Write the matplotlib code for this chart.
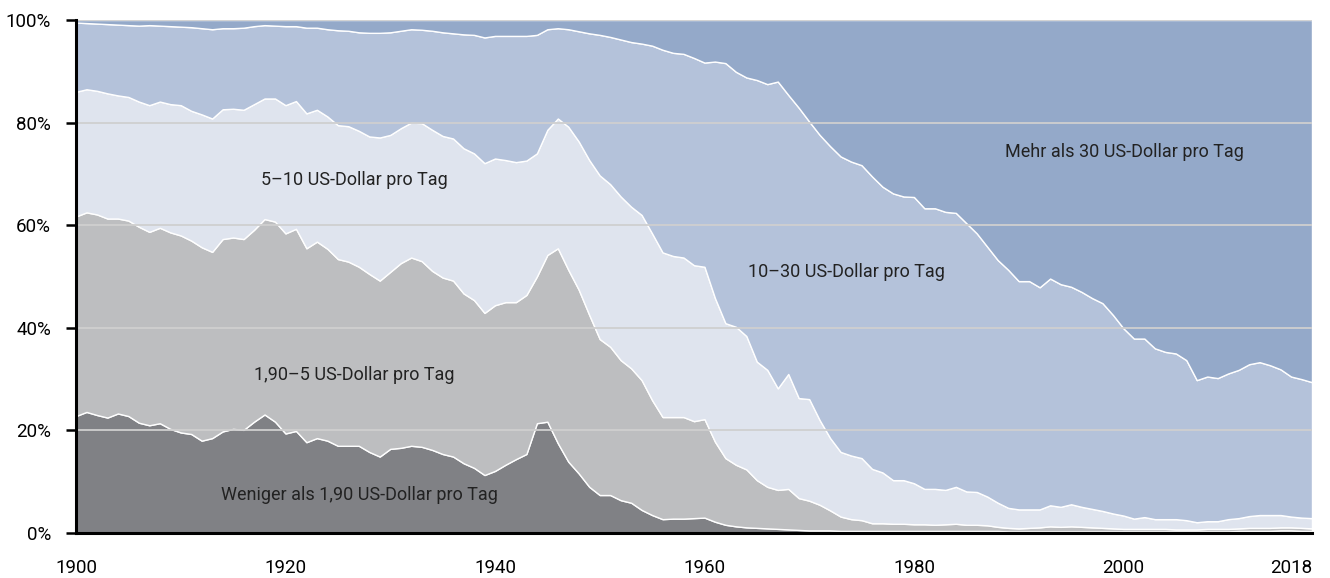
import matplotlib
matplotlib.use("Agg")
import matplotlib.pyplot as plt

years = list(range(1900, 2019))

# cumulative shares (%) – upper edge of each income band
unter_190 = [
    22.8, 23.6, 23.0, 22.5, 23.3, 22.8, 21.5, 21.0, 21.4, 20.3,
    19.6, 19.3, 18.0, 18.5, 19.8, 20.3, 20.1, 21.7, 23.1, 21.7,
    19.4, 19.9, 17.7, 18.5, 18.0, 17.0, 17.0, 17.0, 15.8, 14.9,
    16.4, 16.6, 17.0, 16.8, 16.2, 15.4, 14.9, 13.6, 12.7, 11.3,
    12.1, 13.3, 14.4, 15.4, 21.4, 21.7, 17.5, 13.9, 11.6, 9.0,
    7.4, 7.4, 6.4, 5.9, 4.5, 3.5, 2.7, 2.8, 2.8, 2.9,
    3.0, 2.2, 1.6, 1.3, 1.1, 1.0, 0.9, 0.8, 0.7, 0.6,
    0.5, 0.5, 0.5, 0.4, 0.4, 0.4, 0.4, 0.4, 0.4, 0.4,
    0.4, 0.4, 0.4, 0.4, 0.4, 0.4, 0.4, 0.4, 0.4, 0.3,
    0.3, 0.3, 0.3, 0.3, 0.3, 0.3, 0.3, 0.3, 0.3, 0.3,
    0.3, 0.3, 0.3, 0.3, 0.3, 0.3, 0.3, 0.3, 0.3, 0.3,
    0.3, 0.4, 0.4, 0.4, 0.4, 0.5, 0.5, 0.4, 0.4,
]
bis_5 = [
    61.7, 62.5, 62.1, 61.3, 61.3, 60.9, 59.7, 58.7, 59.5, 58.6,
    58.0, 57.0, 55.7, 54.8, 57.3, 57.6, 57.3, 59.1, 61.2, 60.7,
    58.4, 59.3, 55.5, 56.8, 55.4, 53.4, 52.9, 51.9, 50.5, 49.2,
    50.9, 52.6, 53.7, 53.0, 51.1, 49.8, 49.2, 46.7, 45.4, 42.9,
    44.4, 45.0, 45.0, 46.4, 50.0, 54.2, 55.5, 51.3, 47.4, 42.5,
    37.8, 36.3, 33.7, 32.1, 29.8, 25.9, 22.6, 22.6, 22.6, 21.8,
    22.2, 17.8, 14.6, 13.3, 12.4, 10.3, 9.0, 8.4, 8.6, 6.8,
    6.3, 5.5, 4.4, 3.2, 2.7, 2.5, 1.9, 1.9, 1.8, 1.8,
    1.7, 1.7, 1.6, 1.7, 1.8, 1.6, 1.6, 1.5, 1.2, 1.0,
    0.9, 1.0, 1.1, 1.3, 1.2, 1.3, 1.2, 1.1, 1.0, 0.9,
    0.8, 0.8, 0.8, 0.8, 0.8, 0.7, 0.7, 0.7, 0.8, 0.8,
    0.8, 0.9, 1.0, 1.0, 1.0, 1.1, 1.1, 1.0, 0.9,
]
bis_10 = [
    86.0, 86.5, 86.2, 85.7, 85.3, 85.0, 84.1, 83.4, 84.1, 83.6,
    83.4, 82.3, 81.6, 80.8, 82.6, 82.7, 82.5, 83.6, 84.7, 84.7,
    83.4, 84.2, 81.8, 82.5, 81.2, 79.5, 79.3, 78.4, 77.3, 77.1,
    77.6, 78.9, 80.0, 79.9, 78.6, 77.4, 76.9, 75.0, 74.0, 72.1,
    73.0, 72.7, 72.3, 72.6, 74.0, 78.6, 80.8, 79.2, 76.3, 72.7,
    69.7, 68.0, 65.6, 63.6, 62.0, 58.4, 54.7, 54.0, 53.7, 52.2,
    51.9, 45.8, 40.9, 40.2, 38.4, 33.4, 31.8, 28.2, 31.0, 26.3,
    26.1, 22.0, 18.5, 15.8, 15.1, 14.6, 12.5, 11.8, 10.3, 10.3,
    9.7, 8.6, 8.6, 8.4, 9.0, 8.1, 8.0, 7.1, 5.9, 4.9,
    4.6, 4.6, 4.6, 5.4, 5.1, 5.6, 5.1, 4.7, 4.3, 3.8,
    3.4, 2.8, 3.1, 2.7, 2.7, 2.7, 2.5, 2.1, 2.3, 2.3,
    2.7, 2.9, 3.3, 3.5, 3.5, 3.5, 3.2, 3.0, 2.9,
]
bis_30 = [
    99.5, 99.4, 99.3, 99.2, 99.1, 99.0, 98.9, 99.0, 98.9, 98.8,
    98.7, 98.6, 98.4, 98.2, 98.4, 98.4, 98.5, 98.8, 99.0, 98.9,
    98.8, 98.8, 98.5, 98.5, 98.2, 98.0, 97.9, 97.6, 97.5, 97.5,
    97.6, 97.9, 98.2, 98.1, 97.9, 97.6, 97.4, 97.2, 97.1, 96.6,
    96.9, 96.9, 96.9, 96.9, 97.1, 98.2, 98.4, 98.2, 97.8, 97.4,
    97.1, 96.7, 96.2, 95.7, 95.4, 95.0, 94.2, 93.6, 93.4, 92.6,
    91.7, 91.9, 91.6, 89.9, 88.8, 88.3, 87.5, 88.0, 85.4, 82.9,
    80.2, 77.6, 75.4, 73.4, 72.4, 71.7, 69.5, 67.5, 66.2, 65.6,
    65.5, 63.3, 63.3, 62.6, 62.4, 60.4, 58.4, 55.8, 53.2, 51.3,
    49.1, 49.1, 47.9, 49.6, 48.5, 48.0, 47.0, 45.8, 44.8, 42.5,
    39.9, 37.9, 37.9, 36.0, 35.3, 35.0, 33.7, 29.8, 30.5, 30.2,
    31.1, 31.8, 32.9, 33.3, 32.7, 31.9, 30.5, 30.0, 29.4,
]
gesamt = [100.0] * len(years)
null = [0.0] * len(years)

labels = [
    "Weniger als 1,90 US-Dollar pro Tag",
    "1,90–5 US-Dollar pro Tag",
    "5–10 US-Dollar pro Tag",
    "10–30 US-Dollar pro Tag",
    "Mehr als 30 US-Dollar pro Tag",
]
colors = ["#808185", "#bdbec0", "#dfe4ee", "#b4c2da", "#94a9c9"]
label_pos = [(1927.1, 7.4), (1926.6, 30.8), (1926.6, 68.8), (1973.6, 50.9), (2000.1, 74.3)]

plt.rcParams["font.family"] = ["Roboto", "DejaVu Sans"]

fig = plt.figure(figsize=(13.3, 5.78), dpi=100)
ax = fig.add_axes([76 / 1330, 1 - 533 / 578, 1236 / 1330, 513 / 578])

edges = [null, unter_190, bis_5, bis_10, bis_30, gesamt]
for i in range(5):
    ax.fill_between(years, edges[i], edges[i + 1], facecolor=colors[i],
                    edgecolor="white", linewidth=1.0, zorder=1)

for y in [20, 40, 60, 80, 100]:
    ax.axhline(y, color="#cfcfcf", lw=1.3, zorder=2)

for (x, y), t in zip(label_pos, labels):
    ax.text(x, y, t, ha="center", va="center", fontsize=13, color="#222222", zorder=3)

ax.set_xlim(1900, 2018)
ax.set_ylim(0, 100)
ax.set_yticks([0, 20, 40, 60, 80, 100])
ax.set_yticklabels(["0%", "20%", "40%", "60%", "80%", "100%"])
ax.set_xticks([1900, 1920, 1940, 1960, 1980, 2000, 2018])
ax.set_xticklabels(["1900", "1920", "1940", "1960", "1980", "2000", "2018"])
ax.set_xticks([1900], minor=True)
ax.get_xticklabels()[-1].set_horizontalalignment("right")

for s in ["top", "right"]:
    ax.spines[s].set_visible(False)
for s in ["left", "bottom"]:
    ax.spines[s].set_linewidth(2.2)
    ax.spines[s].set_color("black")
    ax.spines[s].set_zorder(4)

ax.tick_params(axis="y", length=7, width=1.8, pad=11, labelsize=13.5, colors="black")
ax.tick_params(axis="x", which="major", length=0, pad=19, labelsize=13.5)
ax.tick_params(axis="x", which="minor", length=7, width=1.8, color="black")

fig.savefig("out.png", dpi=100)
